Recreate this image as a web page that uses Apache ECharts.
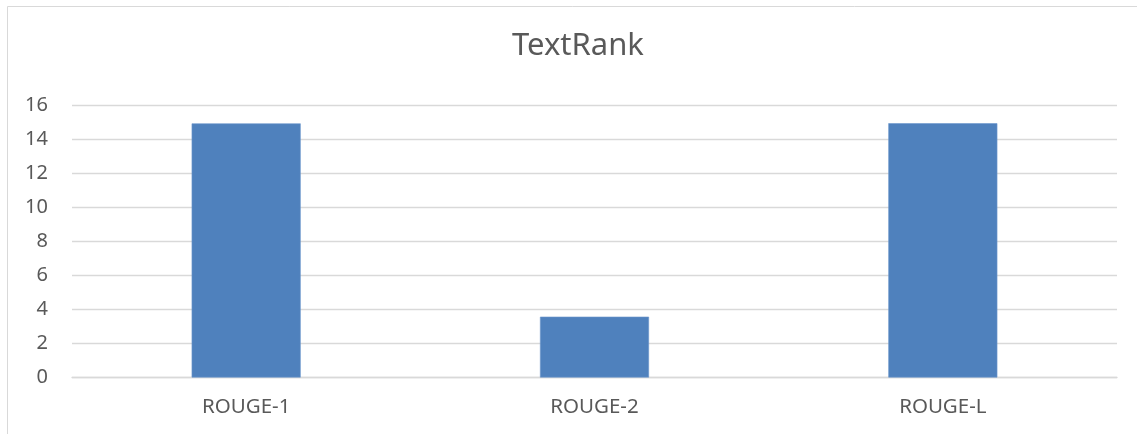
<!DOCTYPE html>
<html>
<head>
<meta charset="utf-8">
<script src="https://cdn.jsdelivr.net/npm/echarts@6/dist/echarts.min.js"></script>
<style>
  html, body { margin: 0; padding: 0; background: #fff; }
  #chart { width: 1137px; height: 434px; }
</style>
</head>
<body>
<div id="chart"></div>
<script>
const chart = echarts.init(document.getElementById('chart'));

const categories = ['ROUGE-1', 'ROUGE-2', 'ROUGE-L'];
const scores = [14.92, 3.57, 14.93];
const yTicks = { min: 0, max: 16, interval: 2 };

const textColor = '#595959';
const lineColor = '#d9d9d9';
const font = '"Noto Sans", sans-serif';

chart.setOption({
  backgroundColor: '#fff',
  animation: false,
  title: {
    text: 'TextRank',
    left: 507,
    top: 26,
    textStyle: { color: textColor, fontSize: 31, fontWeight: 'normal', fontFamily: font }
  },
  graphic: [
    { type: 'line', shape: { x1: 7.5, y1: 6.5, x2: 1137, y2: 6.5 }, style: { stroke: lineColor, lineWidth: 1 } },
    { type: 'line', shape: { x1: 7.5, y1: 6.5, x2: 7.5, y2: 434 }, style: { stroke: lineColor, lineWidth: 1 } }
  ],
  grid: { left: 72, right: 20, top: 105, bottom: 56.5 },
  xAxis: {
    type: 'category',
    data: categories,
    axisLine: { lineStyle: { color: lineColor, width: 1.3 } },
    axisTick: { show: false },
    axisLabel: { color: textColor, fontSize: 20.5, fontFamily: font, margin: 19 }
  },
  yAxis: {
    type: 'value',
    min: yTicks.min,
    max: yTicks.max,
    interval: yTicks.interval,
    axisLine: { show: false },
    axisTick: { show: false },
    axisLabel: { color: textColor, fontSize: 20, fontFamily: font, margin: 24 },
    splitLine: { lineStyle: { color: lineColor, width: 1.3 } }
  },
  series: [
    {
      type: 'bar',
      data: scores,
      barWidth: '31.3%',
      itemStyle: { color: '#4f81bd', borderColor: '#6b97cc', borderWidth: 0.6 }
    }
  ]
});
</script>
</body>
</html>
